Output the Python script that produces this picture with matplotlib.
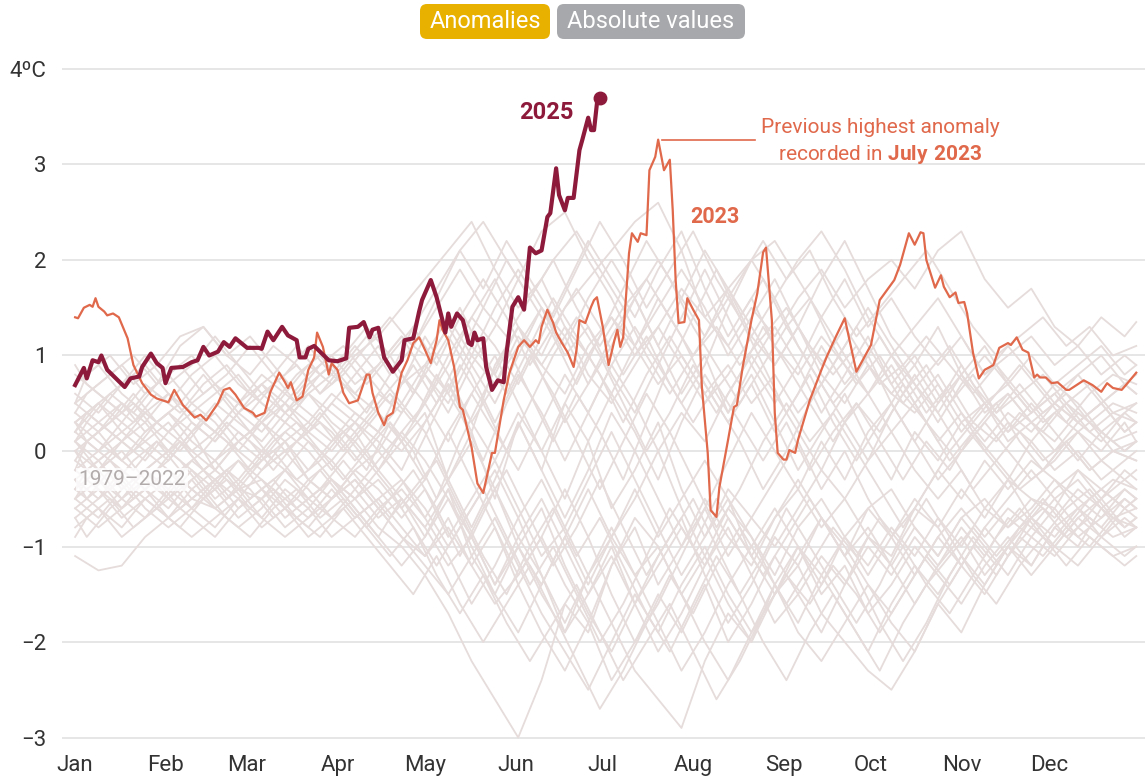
import matplotlib
matplotlib.use("Agg")
import matplotlib.pyplot as plt
from matplotlib.patches import FancyBboxPatch

plt.rcParams['font.family'] = ['Roboto', 'DejaVu Sans']
plt.rcParams['mathtext.fontset'] = 'custom'
plt.rcParams['mathtext.rm'] = 'Roboto'
plt.rcParams['mathtext.bf'] = 'Roboto:bold'

# --- data (day of year, anomaly in degC) ---
months = ['Jan', 'Feb', 'Mar', 'Apr', 'May', 'Jun', 'Jul', 'Aug', 'Sep', 'Oct', 'Nov', 'Dec']
month_start = [0, 31, 59, 90, 120, 151, 181, 212, 243, 273, 304, 334]
y_ticks = [-3, -2, -1, 0, 1, 2, 3, 4]
y_labels = ['\u22123', '\u22122', '\u22121', '0', '1', '2', '3', '4\u00baC']

year_2025 = [(0, 0.69), (3, 0.87), (4, 0.76), (6, 0.95), (8, 0.93), (9, 1.00), (11, 0.85), (14, 0.76),
             (17, 0.67), (19, 0.76), (22, 0.78), (23, 0.88), (26, 1.02), (28, 0.92), (30, 0.87), (31, 0.71),
             (33, 0.87), (37, 0.88), (40, 0.93), (42, 0.95), (44, 1.09), (46, 1.00), (49, 1.04), (51, 1.14),
             (53, 1.09), (55, 1.18), (57, 1.13), (59, 1.08), (63, 1.08), (64, 1.07), (66, 1.25), (68, 1.16),
             (71, 1.30), (73, 1.21), (76, 1.16), (77, 0.98), (79, 0.98), (80, 1.07), (82, 1.10), (84, 1.04),
             (87, 0.95), (90, 0.94), (93, 0.97), (94, 1.29), (97, 1.30), (99, 1.35), (101, 1.19), (102, 1.27),
             (104, 1.29), (106, 0.98), (109, 0.83), (112, 0.95), (113, 1.16), (116, 1.18), (118, 1.46),
             (119, 1.58), (122, 1.79), (124, 1.61), (126, 1.37), (127, 1.24), (128, 1.44), (129, 1.30),
             (131, 1.44), (133, 1.37), (135, 1.13), (136, 1.11), (137, 1.24), (138, 1.16), (140, 1.18),
             (141, 0.88), (143, 0.64), (145, 0.74), (147, 0.72), (148, 1.03), (150, 1.51), (152, 1.61),
             (154, 1.48), (156, 2.13), (158, 2.07), (160, 2.10), (162, 2.45), (163, 2.49), (165, 2.96),
             (166, 2.68), (168, 2.52), (169, 2.65), (171, 2.65), (173, 3.15), (174, 3.26), (176, 3.49),
             (177, 3.36), (178, 3.36), (179, 3.64), (180, 3.70)]

year_2023 = [(0, 1.40), (1, 1.39), (3, 1.50), (5, 1.53), (6, 1.51), (7, 1.60), (8, 1.51), (10, 1.46),
             (11, 1.42), (13, 1.44), (15, 1.40), (18, 1.18), (20, 0.90), (23, 0.71), (26, 0.59), (28, 0.55),
             (32, 0.51), (34, 0.64), (37, 0.48), (41, 0.35), (43, 0.38), (45, 0.32), (49, 0.50), (51, 0.64),
             (53, 0.66), (55, 0.59), (58, 0.45), (61, 0.40), (62, 0.36), (65, 0.40), (67, 0.62), (70, 0.82),
             (72, 0.72), (73, 0.66), (74, 0.72), (76, 0.53), (78, 0.57), (80, 0.85), (82, 0.98), (83, 1.24),
             (85, 1.09), (87, 0.80), (88, 0.92), (90, 0.85), (92, 0.61), (94, 0.50), (97, 0.53), (100, 0.80),
             (101, 0.80), (102, 0.61), (104, 0.40), (106, 0.27), (107, 0.36), (109, 0.40), (112, 0.82),
             (114, 0.95), (116, 1.13), (118, 1.19), (120, 1.06), (122, 0.92), (124, 1.16), (125, 1.37),
             (126, 1.27), (128, 1.16), (130, 0.88), (132, 0.46), (133, 0.43), (136, 0.04), (138, -0.34),
             (140, -0.44), (141, -0.30), (143, -0.02), (144, -0.02), (147, 0.53), (149, 0.82), (152, 1.09),
             (154, 1.16), (156, 1.09), (158, 1.16), (159, 1.13), (160, 1.30), (162, 1.48), (164, 1.34),
             (165, 1.24), (167, 1.13), (169, 1.03), (171, 0.88), (172, 1.06), (173, 1.37), (175, 1.34),
             (177, 1.51), (178, 1.58), (179, 1.61), (181, 1.30), (183, 0.90), (185, 1.16), (186, 1.27),
             (187, 1.09), (188, 1.19), (190, 2.07), (191, 2.28), (193, 2.19), (194, 2.28), (196, 2.26),
             (197, 2.94), (199, 3.08), (200, 3.26), (202, 2.94), (204, 3.05), (205, 2.52), (206, 1.79),
             (207, 1.34), (209, 1.35), (210, 1.60), (212, 1.48), (214, 1.37), (215, 0.67), (217, -0.02),
             (218, -0.62), (220, -0.69), (221, -0.38), (224, 0.12), (226, 0.46), (227, 0.48), (229, 0.88),
             (232, 1.37), (234, 1.65), (236, 2.08), (237, 2.13), (239, 1.37), (240, 0.40), (241, -0.02),
             (243, -0.09), (244, -0.09), (245, 0.01), (247, -0.02), (248, 0.12), (252, 0.53), (256, 0.85),
             (258, 1.00), (261, 1.20), (264, 1.39), (268, 0.83), (273, 1.11), (276, 1.58), (281, 1.79),
             (283, 1.95), (286, 2.28), (288, 2.16), (290, 2.29), (291, 2.28), (292, 2.00), (295, 1.71),
             (297, 1.84), (298, 1.72), (300, 1.61), (302, 1.66), (303, 1.55), (305, 1.56), (306, 1.44),
             (308, 1.03), (310, 0.76), (312, 0.85), (315, 0.90), (317, 1.08), (320, 1.13), (321, 1.11),
             (323, 1.19), (325, 1.06), (327, 1.03), (329, 0.77), (330, 0.80), (331, 0.77), (333, 0.77),
             (335, 0.71), (337, 0.72), (340, 0.64), (341, 0.64), (346, 0.74), (349, 0.69), (352, 0.62),
             (354, 0.71), (356, 0.66), (359, 0.64), (361, 0.71), (364, 0.82)]

# 1979-2022, sampled every 8 days (two staggered groups)
bg_days = [0, 8, 16, 24, 32, 40, 48, 56, 64, 72, 80, 88, 96, 104, 112, 120, 128, 136, 144, 152, 160, 168,
           176, 184, 192, 200, 208, 216, 224, 232, 240, 248, 256, 264, 272, 280, 288, 296, 304, 312, 320,
           328, 336, 344, 352, 360, 364]
bg_lines = [
    [-1.1, -1.25, -1.2, -0.9, -0.7, -0.5, -0.6, -0.4, -0.3, -0.5, -0.7, -0.5, -0.3, -0.6, -0.9, -1.1, -0.8, -1.2, -1.6, -1.3, -0.9, -1.4, -1.8, -1.2, -0.7, -1.0, -1.5, -1.1, -0.6, -0.9, -1.3, -0.8, -0.5, -0.9, -0.6, -0.4, -0.8, -1.1, -0.7, -0.5, -0.8, -0.6, -0.3, -0.5, -0.7, -0.4, -0.5],
    [-0.3, -0.5, -0.2, -0.4, -0.6, -0.3, -0.1, -0.4, -0.5, -0.2, -0.4, -0.7, -0.5, -0.8, -1.0, -1.3, -1.7, -2.2, -2.6, -3.0, -2.4, -1.6, -1.9, -1.2, -0.8, -1.4, -1.0, -0.5, -0.9, -1.2, -0.7, -0.4, -0.8, -0.5, -0.9, -1.1, -0.6, -0.8, -0.4, -0.7, -0.3, -0.5, -0.6, -0.2, -0.4, -0.6, -0.5],
    [-0.5, -0.3, -0.6, -0.4, -0.2, -0.5, -0.3, -0.6, -0.4, -0.2, -0.5, -0.3, -0.6, -0.9, -0.5, -0.8, -1.2, -0.9, -1.4, -1.0, -1.5, -1.9, -1.3, -1.8, -2.3, -2.6, -2.9, -2.2, -1.7, -2.0, -1.4, -1.0, -1.3, -0.9, -1.2, -0.8, -1.1, -0.7, -1.0, -0.6, -0.8, -0.5, -0.7, -0.4, -0.6, -0.8, -0.7],
    [0.3, 0.5, 0.2, 0.4, 0.6, 0.3, 0.1, 0.4, 0.2, 0.5, 0.3, 0.6, 0.4, 0.2, 0.7, 0.9, 0.6, 1.1, 0.8, 1.3, 1.0, 1.5, 1.8, 2.1, 2.4, 2.6, 2.1, 1.4, 1.7, 1.2, 0.9, 1.3, 0.8, 0.5, 0.9, 0.6, 0.4, 0.7, 0.3, 0.5, 0.2, 0.4, 0.6, 0.3, 0.5, 0.2, 0.3],
    [0.1, -0.2, 0.0, -0.3, -0.1, 0.2, -0.2, -0.4, -0.1, 0.1, -0.3, -0.1, 0.2, -0.2, 0.1, 0.4, -0.3, 0.2, -0.5, 0.3, -0.2, 0.5, 0.1, -0.6, -0.2, 0.3, -0.4, -0.9, -0.5, -1.1, -1.5, -1.2, -1.7, -2.0, -2.3, -2.5, -2.1, -1.6, -1.9, -1.4, -1.0, -1.2, -0.8, -1.0, -0.6, -0.9, -0.8],
    [0.2, 0.0, 0.3, 0.1, -0.1, 0.2, 0.4, 0.1, 0.3, 0.0, 0.2, 0.5, 0.3, 0.6, 0.4, 0.8, 0.5, 1.0, 0.7, 1.2, 0.9, 0.6, 1.1, 1.4, 1.0, 1.3, 1.7, 1.4, 1.1, 1.5, 1.2, 1.6, 1.9, 1.5, 1.8, 2.0, 1.7, 2.1, 2.3, 1.8, 1.5, 1.7, 1.3, 1.1, 1.4, 1.2, 1.35],
    [0.5, 0.7, 0.9, 0.6, 0.8, 1.0, 0.7, 0.5, 0.8, 0.6, 0.9, 0.7, 1.0, 1.2, 1.5, 1.8, 2.1, 2.4, 1.9, 1.5, 1.8, 1.3, 1.0, 1.4, 1.1, 0.7, 1.0, 0.6, 0.9, 0.5, 0.8, 0.4, 0.7, 0.3, 0.6, 0.2, 0.5, 0.1, 0.4, 0.0, 0.3, 0.1, 0.4, 0.2, 0.0, 0.3, 0.1],
    [-0.6, -0.4, -0.7, -0.5, -0.3, -0.6, -0.8, -0.5, -0.7, -0.4, -0.6, -0.3, -0.5, -0.2, -0.5, -0.9, -0.4, -1.1, -1.5, -1.0, -0.6, -1.2, -1.7, -2.1, -1.6, -1.1, -0.7, -1.3, -1.8, -1.4, -0.9, -1.2, -0.7, -1.0, -1.4, -1.7, -1.3, -0.9, -1.2, -0.8, -1.1, -0.7, -0.9, -0.6, -0.8, -0.5, -0.6],
    [0.0, 0.2, -0.1, 0.1, 0.3, 0.0, -0.2, 0.1, 0.3, 0.5, 0.2, 0.0, 0.3, 0.1, -0.2, 0.3, 0.7, 0.2, 0.9, 1.3, 0.8, 0.3, 0.7, 1.2, 1.6, 1.1, 0.6, 1.0, 0.4, 0.8, 0.3, -0.2, 0.2, 0.6, 0.1, -0.3, 0.2, -0.1, 0.3, 0.0, -0.3, 0.1, -0.2, 0.0, -0.3, -0.1, 0.0],
    [-0.4, -0.2, -0.5, -0.7, -0.4, -0.6, -0.3, -0.1, -0.4, -0.6, -0.3, -0.5, -0.2, -0.4, -0.7, -0.4, -0.9, -0.5, -0.1, -0.6, -1.1, -0.8, -0.3, 0.2, -0.3, -0.8, -1.3, -0.9, -0.4, -0.7, -1.0, -0.6, -0.2, -0.5, -0.1, 0.2, -0.2, -0.5, -0.2, -0.6, -0.3, -0.7, -0.4, -0.2, -0.5, -0.3, -0.4],
    [0.6, 0.4, 0.7, 0.9, 0.6, 0.4, 0.6, 0.8, 0.5, 0.3, 0.6, 0.4, 0.2, 0.5, 0.8, 0.5, 1.0, 1.4, 1.1, 0.7, 1.2, 1.7, 2.2, 1.8, 1.4, 1.9, 2.3, 1.7, 1.2, 1.6, 1.1, 0.8, 1.2, 0.9, 0.6, 1.0, 0.7, 0.4, 0.8, 0.5, 0.7, 0.4, 0.6, 0.8, 0.5, 0.7, 0.6],
    [-0.2, -0.4, -0.6, -0.3, -0.5, -0.2, -0.4, -0.1, -0.3, -0.6, -0.8, -0.5, -0.3, -0.6, -0.4, -0.7, -1.1, -1.6, -1.2, -0.7, -1.3, -1.9, -1.5, -1.0, -1.6, -2.1, -1.7, -1.2, -0.8, -1.3, -1.8, -1.5, -1.1, -1.4, -0.9, -1.2, -0.8, -1.1, -0.7, -1.0, -1.3, -0.9, -1.1, -0.8, -1.0, -1.2, -1.1],
    [0.3, 0.1, -0.1, 0.2, 0.4, 0.2, 0.5, 0.3, 0.1, 0.4, 0.6, 0.3, 0.1, -0.2, 0.2, 0.5, 0.1, 0.6, 1.0, 0.5, 0.0, -0.5, 0.1, 0.6, 0.2, -0.3, 0.3, 0.8, 0.4, 0.9, 1.3, 0.9, 1.4, 1.0, 0.6, 0.9, 0.5, 0.8, 0.4, 0.1, 0.4, 0.2, 0.5, 0.3, 0.1, 0.4, 0.3],
    [-0.7, -0.5, -0.3, -0.6, -0.8, -0.6, -0.4, -0.7, -0.5, -0.8, -0.6, -0.9, -0.7, -0.5, -0.8, -1.1, -0.7, -1.2, -0.8, -1.4, -1.9, -2.3, -1.8, -2.4, -2.0, -1.5, -1.9, -1.4, -2.0, -1.6, -1.1, -1.5, -1.9, -1.4, -1.0, -1.3, -0.9, -1.2, -0.8, -1.1, -0.7, -0.9, -0.6, -0.9, -0.7, -0.5, -0.6],
    [0.8, 0.6, 0.4, 0.7, 0.5, 0.8, 1.0, 0.7, 0.5, 0.3, 0.6, 0.8, 1.1, 0.8, 0.5, 0.9, 1.3, 0.9, 0.5, 1.0, 1.5, 1.2, 0.7, 1.1, 1.6, 2.0, 1.6, 1.2, 1.7, 1.3, 0.9, 1.3, 1.8, 2.2, 1.7, 1.2, 0.9, 1.3, 0.8, 1.1, 0.7, 1.0, 0.7, 0.9, 1.1, 0.8, 0.9],
    [-0.1, -0.3, -0.5, -0.2, 0.0, -0.2, -0.5, -0.3, 0.0, -0.2, 0.1, -0.1, -0.4, -0.1, 0.2, -0.1, -0.5, -0.9, -0.4, -1.0, -1.4, -0.9, -0.4, -0.9, -0.5, 0.0, -0.6, -1.1, -1.6, -2.0, -1.5, -1.0, -1.4, -0.9, -1.3, -0.9, -0.5, -0.8, -1.2, -0.8, -0.5, -0.2, -0.5, -0.3, -0.6, -0.4, -0.5],
    [0.4, 0.2, 0.5, 0.3, 0.0, 0.3, 0.1, 0.4, 0.7, 0.4, 0.2, 0.5, 0.8, 1.1, 0.7, 1.2, 0.8, 0.3, 0.7, 1.1, 1.5, 1.0, 1.3, 0.8, 0.4, 0.9, 1.4, 1.9, 1.4, 0.9, 0.5, 0.9, 0.4, 0.8, 1.2, 0.7, 1.0, 0.6, 0.2, 0.5, 0.1, 0.3, 0.0, 0.3, 0.5, 0.2, 0.3],
    [-0.3, -0.1, -0.4, -0.2, -0.5, -0.7, -0.9, -0.6, -0.4, -0.7, -0.5, -0.3, -0.6, -0.9, -1.2, -0.9, -0.5, -1.0, -1.5, -1.9, -1.4, -0.9, -1.4, -0.9, -1.3, -1.8, -2.3, -1.9, -1.4, -1.0, -0.6, -1.0, -1.5, -1.2, -1.7, -1.4, -1.0, -1.3, -1.6, -1.2, -0.9, -1.2, -0.8, -0.6, -0.9, -0.7, -0.8],
    [0.1, 0.3, 0.5, 0.2, 0.4, 0.1, -0.1, 0.2, 0.0, 0.3, 0.1, -0.2, 0.1, 0.4, 0.1, -0.3, 0.2, 0.6, 0.2, -0.2, 0.3, 0.8, 0.4, 0.9, 0.5, 0.0, 0.4, 0.1, 0.6, 1.0, 0.6, 0.2, -0.2, 0.3, -0.1, 0.4, 0.8, 0.4, 0.0, 0.3, 0.6, 0.3, 0.1, 0.4, 0.2, 0.0, 0.1],
    [-0.5, -0.7, -0.4, -0.2, -0.4, -0.1, -0.3, -0.5, -0.2, 0.0, -0.3, -0.5, -0.2, 0.0, -0.3, -0.6, -1.0, -0.6, -0.2, -0.7, -0.3, -0.8, -1.3, -0.9, -0.4, -0.9, -0.5, -0.1, -0.5, -0.9, -1.4, -1.9, -2.2, -1.8, -1.4, -1.8, -2.1, -1.6, -1.2, -1.5, -1.1, -0.8, -0.5, -0.8, -0.5, -0.2, -0.3],
    [0.2, 0.5, 0.7, 1.0, 0.7, 0.9, 1.2, 0.9, 0.6, 0.4, 0.7, 0.9, 0.6, 0.4, 0.1, 0.5, 0.9, 1.4, 1.8, 1.3, 0.9, 1.3, 0.8, 0.5, 0.9, 1.3, 0.9, 0.5, 0.8, 1.2, 1.6, 2.0, 2.3, 1.9, 1.4, 1.0, 1.3, 1.6, 1.2, 0.8, 1.1, 0.8, 0.5, 0.8, 1.0, 0.7, 0.8],
    [-0.8, -0.6, -0.9, -0.7, -0.5, -0.3, -0.6, -0.4, -0.7, -0.9, -0.7, -0.4, -0.7, -0.5, -0.3, -0.7, -0.3, 0.1, -0.4, -0.9, -0.5, -1.0, -1.5, -1.1, -1.6, -1.2, -0.8, -1.2, -0.7, -1.1, -0.7, -0.3, -0.7, -1.1, -0.8, -1.2, -1.6, -1.2, -0.9, -1.3, -1.0, -1.3, -1.0, -1.2, -0.9, -1.1, -1.0],
    [0.0, -0.2, 0.1, -0.1, 0.2, 0.4, 0.2, 0.0, -0.2, 0.1, 0.3, 0.1, 0.4, 0.2, 0.5, 0.2, -0.3, -0.8, -0.3, 0.3, -0.2, -0.7, -0.2, 0.4, 0.0, -0.5, -1.0, -0.6, -0.1, 0.4, 0.0, -0.4, 0.1, -0.3, 0.2, 0.5, 0.1, -0.3, 0.0, 0.3, 0.0, -0.3, -0.1, 0.2, -0.1, -0.3, -0.2],
    [0.5, 0.3, 0.1, 0.3, 0.6, 0.4, 0.2, 0.5, 0.7, 0.5, 0.8, 1.0, 0.7, 0.9, 1.2, 0.8, 0.4, 0.9, 1.3, 1.8, 2.3, 2.5, 2.0, 1.6, 1.1, 1.5, 1.9, 1.5, 1.0, 1.4, 1.8, 1.3, 0.9, 1.3, 0.9, 0.6, 0.9, 0.5, 0.8, 0.4, 0.6, 0.3, 0.5, 0.3, 0.5, 0.7, 0.6],
    [-0.2, 0.0, 0.2, 0.0, -0.2, -0.4, -0.2, 0.1, -0.1, 0.2, 0.0, -0.3, -0.5, -0.3, -0.6, -0.3, 0.2, -0.3, -0.8, -1.3, -0.9, -0.4, -0.9, -1.5, -2.0, -1.6, -1.1, -0.6, -1.1, -0.7, -0.3, 0.1, -0.4, 0.0, -0.5, -0.9, -0.6, -0.2, -0.5, -0.1, -0.4, -0.1, -0.3, -0.6, -0.4, -0.6, -0.5],
    [0.3, 0.5, 0.3, 0.6, 0.8, 0.5, 0.3, 0.0, 0.3, 0.1, -0.2, 0.1, 0.3, 0.0, 0.4, 0.8, 1.2, 0.8, 0.3, 0.8, 0.4, -0.1, 0.4, 0.9, 1.3, 0.9, 0.5, 0.9, 1.5, 2.0, 1.6, 1.1, 0.7, 1.1, 1.5, 1.1, 0.7, 0.3, 0.7, 1.0, 0.7, 0.4, 0.7, 0.5, 0.2, 0.4, 0.5],
    [-0.4, -0.6, -0.8, -0.5, -0.7, -0.4, -0.6, -0.8, -0.6, -0.3, -0.5, -0.7, -0.9, -0.6, -0.9, -1.2, -1.5, -1.1, -0.7, -1.2, -1.7, -2.1, -2.5, -2.0, -1.5, -1.9, -1.4, -1.0, -1.5, -1.9, -1.5, -1.1, -0.7, -1.1, -0.6, -0.9, -1.3, -0.9, -0.6, -0.9, -0.6, -0.8, -1.0, -0.7, -0.5, -0.8, -0.7],
    [0.1, -0.1, 0.1, 0.4, 0.2, 0.0, 0.2, 0.5, 0.3, 0.6, 0.4, 0.2, -0.1, 0.2, 0.0, 0.3, 0.7, 0.3, -0.1, 0.4, 0.0, 0.5, 1.0, 0.6, 1.1, 1.6, 1.2, 0.7, 0.3, 0.7, 0.2, 0.6, 1.1, 0.7, 1.0, 0.5, 0.1, 0.5, 0.9, 0.5, 0.2, 0.5, 0.2, -0.1, 0.2, 0.0, 0.1],
    [-0.6, -0.8, -0.6, -0.4, -0.7, -0.9, -0.7, -0.5, -0.8, -0.6, -0.9, -0.7, -0.4, -0.7, -0.5, -0.8, -0.4, -0.9, -1.4, -0.9, -1.3, -1.8, -1.3, -0.8, -1.3, -1.0, -1.5, -2.0, -2.4, -1.9, -1.4, -1.8, -1.3, -1.7, -2.1, -1.6, -1.2, -1.5, -1.1, -1.4, -1.0, -0.7, -1.0, -0.7, -0.9, -0.6, -0.7],
    [0.7, 0.9, 0.6, 0.4, 0.2, 0.5, 0.7, 0.4, 0.6, 0.8, 1.1, 0.8, 0.6, 0.9, 1.2, 1.0, 1.4, 1.0, 1.5, 1.9, 1.5, 1.1, 1.6, 2.0, 1.6, 1.1, 1.6, 2.1, 1.7, 2.0, 2.2, 1.8, 1.4, 1.8, 1.3, 1.6, 1.2, 0.9, 1.2, 0.8, 1.0, 1.2, 0.9, 1.1, 0.8, 1.0, 0.9],
]

bg_days_b = [0, 4, 12, 20, 28, 36, 44, 52, 60, 68, 76, 84, 92, 100, 108, 116, 124, 132, 140, 148, 156, 164,
             172, 180, 188, 196, 204, 212, 220, 228, 236, 244, 252, 260, 268, 276, 284, 292, 300, 308, 316,
             324, 332, 340, 348, 356, 364]
bg_lines_b = [
    [0.4, 0.6, 0.8, 1.0, 0.7, 1.1, 1.3, 1.0, 0.8, 1.1, 0.9, 0.6, 0.9, 1.2, 0.8, 1.1, 1.5, 1.9, 1.5, 1.2, 1.6, 2.0, 2.3, 1.9, 1.5, 1.8, 1.4, 1.0, 1.3, 0.9, 1.2, 1.5, 1.1, 0.8, 1.1, 0.7, 0.9, 1.2, 0.9, 0.6, 0.9, 0.6, 0.8, 0.5, 0.7, 0.4, 0.5],
    [-0.2, 0.1, 0.3, 0.6, 0.3, 0.5, 0.8, 0.5, 0.2, 0.5, 0.8, 1.0, 0.7, 0.4, 0.8, 1.3, 0.9, 1.4, 1.8, 1.4, 0.9, 1.3, 1.7, 1.3, 0.8, 1.2, 0.7, 0.3, 0.7, 0.3, -0.1, 0.3, -0.2, 0.2, 0.5, 0.1, -0.3, 0.1, -0.2, 0.2, -0.1, 0.2, -0.1, 0.1, -0.2, 0.0, -0.1],
    [-0.3, -0.5, -0.2, -0.5, -0.3, -0.6, -0.4, -0.7, -0.9, -0.6, -0.4, -0.7, -0.5, -0.8, -1.1, -0.8, -1.3, -1.7, -1.3, -1.8, -2.2, -1.8, -1.4, -1.9, -2.4, -2.0, -1.6, -2.1, -2.6, -2.2, -1.7, -1.3, -1.6, -1.2, -1.5, -1.9, -1.5, -1.1, -1.4, -1.0, -1.3, -0.9, -1.1, -0.8, -1.0, -0.7, -0.8],
    [0.0, -0.2, -0.4, -0.1, 0.1, -0.2, 0.0, 0.3, 0.1, -0.2, 0.1, 0.4, 0.1, -0.2, 0.3, 0.0, -0.5, 0.1, 0.6, 1.1, 0.6, 0.1, 0.6, 0.2, -0.3, 0.3, 0.9, 1.4, 1.9, 1.4, 0.9, 0.4, 0.8, 0.3, -0.1, 0.3, 0.7, 0.3, -0.1, 0.2, 0.5, 0.1, -0.2, 0.1, 0.3, 0.0, 0.1],
    [-0.9, -0.7, -0.5, -0.8, -0.6, -0.3, -0.5, -0.2, -0.4, -0.7, -0.5, -0.2, -0.5, -0.8, -0.5, -0.2, -0.6, -1.1, -0.6, -0.2, -0.7, -1.2, -0.8, -0.3, -0.8, -1.3, -0.9, -0.5, -1.0, -1.5, -1.1, -0.6, -1.0, -1.4, -1.8, -1.4, -0.9, -0.5, -0.9, -1.3, -0.9, -0.6, -0.9, -0.6, -0.4, -0.7, -0.6],
    [0.5, 0.8, 1.0, 0.7, 0.9, 1.2, 1.3, 1.0, 1.2, 0.9, 0.6, 0.9, 1.1, 0.8, 0.5, 0.9, 0.5, 1.0, 1.5, 2.0, 1.6, 1.2, 0.7, 1.2, 1.7, 2.2, 1.8, 1.3, 0.9, 0.5, 0.9, 1.3, 0.9, 0.5, 0.8, 1.2, 0.8, 0.4, 0.7, 0.3, 0.6, 0.9, 0.6, 0.3, 0.6, 0.8, 0.7],
    [-0.1, 0.1, -0.1, -0.3, -0.1, 0.1, -0.2, -0.5, -0.2, 0.0, -0.3, -0.1, 0.2, -0.1, -0.4, -0.8, -1.2, -0.8, -0.4, -0.9, -1.4, -1.0, -1.5, -2.0, -1.6, -1.1, -0.6, -1.0, -0.5, -0.9, -1.3, -0.9, -0.5, -0.9, -1.3, -1.8, -2.2, -1.8, -1.3, -0.9, -1.2, -0.8, -0.5, -0.8, -0.5, -0.3, -0.4],
    [0.2, 0.4, 0.2, 0.0, 0.3, 0.5, 0.3, 0.6, 0.4, 0.7, 0.9, 0.6, 0.8, 1.1, 1.4, 1.1, 1.6, 2.1, 1.7, 2.2, 1.8, 1.4, 1.9, 2.4, 2.0, 1.5, 1.9, 2.3, 1.8, 1.4, 1.8, 1.3, 1.6, 1.1, 0.7, 1.0, 0.6, 0.9, 0.5, 0.8, 0.4, 0.6, 0.3, 0.5, 0.2, 0.4, 0.3],
    [-0.5, -0.3, -0.1, -0.4, -0.2, 0.1, -0.2, 0.0, 0.2, -0.1, 0.1, 0.3, 0.0, 0.3, 0.6, 0.3, 0.8, 0.4, -0.1, 0.5, 1.0, 0.6, 0.1, -0.4, 0.1, 0.6, 0.2, -0.3, -0.8, -0.4, 0.1, 0.5, 0.1, 0.4, 0.0, -0.4, -0.8, -0.4, 0.0, -0.4, -0.1, -0.4, -0.2, 0.1, -0.2, 0.0, -0.1],
    [0.9, 0.7, 0.5, 0.3, 0.6, 0.4, 0.7, 0.9, 0.6, 0.8, 1.1, 0.8, 1.0, 0.7, 1.0, 1.3, 1.7, 2.1, 2.4, 2.0, 1.6, 2.0, 1.5, 1.1, 1.5, 1.0, 0.6, 1.0, 1.4, 1.8, 2.2, 1.8, 2.1, 1.6, 1.2, 1.5, 1.8, 2.1, 1.7, 1.3, 1.0, 1.2, 1.4, 1.1, 1.3, 1.0, 1.1],
    [-0.7, -0.9, -0.6, -0.4, -0.6, -0.8, -0.5, -0.3, -0.6, -0.4, -0.7, -0.9, -0.6, -0.9, -1.2, -1.5, -1.1, -1.6, -2.0, -1.6, -1.2, -1.7, -2.2, -2.7, -2.3, -1.8, -1.3, -1.7, -1.2, -0.8, -1.2, -1.6, -1.2, -0.8, -1.1, -0.7, -1.0, -1.4, -1.1, -0.8, -1.1, -0.8, -0.6, -0.9, -0.7, -0.9, -0.8],
    [0.3, 0.1, 0.3, 0.5, 0.2, 0.0, 0.3, 0.1, -0.2, 0.1, 0.3, 0.0, -0.3, 0.0, 0.3, -0.1, 0.4, 0.9, 0.5, 0.0, 0.5, 1.0, 1.4, 1.0, 0.5, 0.0, 0.4, 0.9, 0.5, 0.1, -0.4, 0.0, 0.5, 0.9, 1.3, 0.9, 0.5, 0.8, 1.1, 0.7, 0.4, 0.7, 0.4, 0.6, 0.3, 0.5, 0.4],
    [-0.4, -0.2, 0.0, -0.2, 0.1, -0.1, -0.4, -0.2, -0.5, -0.3, -0.6, -0.4, -0.1, -0.4, -0.7, -0.4, -0.1, -0.6, -1.1, -1.5, -1.0, -0.6, -1.1, -0.7, -1.2, -1.7, -2.1, -1.6, -1.1, -1.5, -2.0, -2.4, -1.9, -1.5, -1.9, -2.3, -1.8, -1.4, -1.7, -1.3, -1.6, -1.2, -0.9, -1.2, -0.9, -1.1, -1.0],
    [0.1, 0.3, 0.6, 0.4, 0.7, 0.9, 0.6, 0.8, 1.1, 0.8, 0.5, 0.8, 1.0, 1.3, 1.0, 0.6, 1.1, 1.5, 1.0, 0.6, 1.1, 1.6, 1.2, 0.8, 0.3, 0.8, 1.2, 0.8, 0.4, 0.8, 1.3, 0.9, 0.5, 0.1, 0.5, 0.2, 0.6, 0.3, 0.0, 0.3, 0.1, 0.4, 0.2, 0.5, 0.3, 0.1, 0.2],
]

for i, line in enumerate(bg_lines):
    assert len(line) == len(bg_days), ('a', i, len(line))
for i, line in enumerate(bg_lines_b):
    assert len(line) == len(bg_days_b), ('b', i, len(line))

c_2025 = '#8e1a3b'
c_2023 = '#e0684b'
c_bg = '#e5dcdb'

fig = plt.figure(figsize=(11.45, 7.78), dpi=100)
ax = fig.add_axes([62 / 1145, 1 - 742.3 / 778, 1 - 62 / 1145, (742.3 - 64.2) / 778])

for line in bg_lines:
    ax.plot(bg_days, line, color=c_bg, lw=1.3, zorder=2, solid_joinstyle='round')
for line in bg_lines_b:
    ax.plot(bg_days_b, line, color=c_bg, lw=1.3, zorder=2, solid_joinstyle='round')

d23, v23 = zip(*year_2023)
ax.plot(d23, v23, color=c_2023, lw=1.6, zorder=4)

d25, v25 = zip(*year_2025)
ax.plot(d25, v25, color=c_2025, lw=3.0, zorder=5, solid_joinstyle='round')
ax.plot(d25[-1], v25[-1], 'o', color=c_2025, ms=9, zorder=6)

ax.set_xlim(-4.5, 367)
ax.set_ylim(-3.05, 4.05)
ax.set_yticks(y_ticks)
ax.set_yticklabels(y_labels)
ax.set_xticks(month_start)
ax.set_xticklabels(months)
ax.tick_params(axis='both', length=0, labelsize=16, colors='#333333')
ax.tick_params(axis='y', pad=11)
ax.tick_params(axis='x', pad=9)
ax.grid(axis='y', color='#e4e4e4', lw=1.3)
ax.set_axisbelow(True)
for s in ax.spines.values():
    s.set_visible(False)

# labels
ax.text(161.6, 3.54, '2025', color=c_2025, fontsize=17, fontweight='bold', ha='center', va='center', zorder=7)
ax.text(219.6, 2.45, '2023', color=c_2023, fontsize=15.5, fontweight='bold', ha='center', va='center', zorder=7)
ax.text(1, -0.30, '1979\u20132022', color='#b3acac', fontsize=15, ha='left', va='center', zorder=3,
        bbox=dict(facecolor='white', edgecolor='none', alpha=0.8, pad=1.5))
ax.plot([201.4, 233.3], [3.26, 3.26], color=c_2023, lw=1.2, zorder=4)
ax.text(276.2, 3.39, 'Previous highest anomaly', color=c_2023, fontsize=15, ha='center', va='center')
ax.text(276.2, 3.10, r'recorded in $\mathbf{July\ 2023}$', color=c_2023, fontsize=15, ha='center', va='center')

# toggle buttons on top
fig.patches.append(FancyBboxPatch((4.20, 7.39), 1.30, 0.35, boxstyle='round,pad=0,rounding_size=0.07',
                                  transform=fig.dpi_scale_trans, fc='#e8b100', ec='none'))
fig.patches.append(FancyBboxPatch((5.57, 7.39), 1.88, 0.35, boxstyle='round,pad=0,rounding_size=0.07',
                                  transform=fig.dpi_scale_trans, fc='#a7a8ab', ec='none'))
fig.text(4.85 / 11.45, 7.565 / 7.78, 'Anomalies', color='white', fontsize=17, ha='center', va='center')
fig.text(6.51 / 11.45, 7.565 / 7.78, 'Absolute values', color='white', fontsize=17, ha='center', va='center')

fig.savefig('out.png', dpi=100)
